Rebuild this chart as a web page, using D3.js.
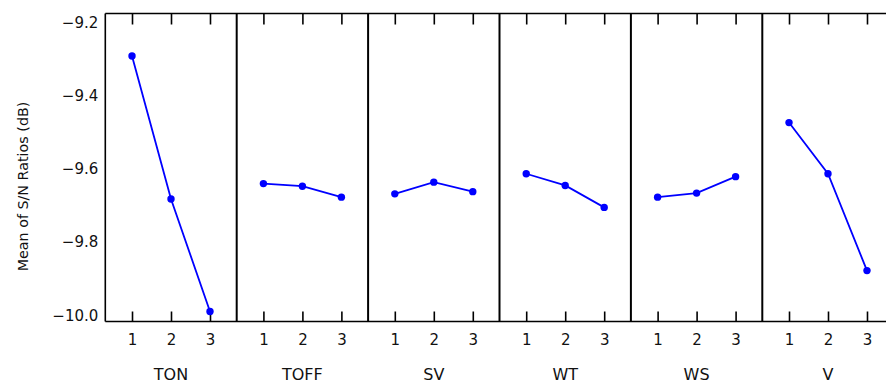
<!DOCTYPE html>
<html>
<head>
<meta charset="utf-8">
<script src="https://cdn.jsdelivr.net/npm/d3@7"></script>
<style>
  html, body { margin: 0; padding: 0; background: #fff; }
  svg { display: block; }
  text { font-family: "DejaVu Sans", "Open Sans", sans-serif; fill: #111; }
</style>
</head>
<body>
<svg id="chart" width="886" height="385"></svg>
<script>
// Main-effects plot: mean S/N ratio per factor level
const factors = ["TON", "TOFF", "SV", "WT", "WS", "V"];
const levels = ["1", "2", "3"];
const valuesTON  = [-9.291, -9.682, -9.990];
const valuesTOFF = [-9.640, -9.647, -9.677];
const valuesSV   = [-9.668, -9.636, -9.662];
const valuesWT   = [-9.613, -9.645, -9.705];
const valuesWS   = [-9.677, -9.666, -9.621];
const valuesV    = [-9.473, -9.613, -9.878];
const yTicks = [-9.2, -9.4, -9.6, -9.8, -10.0];
const yLabel = "Mean of S/N Ratios (dB)";

const series = [valuesTON, valuesTOFF, valuesSV, valuesWT, valuesWS, valuesV];

const svg = d3.select("#chart");
const plotLeft = 105.3, plotTop = 13.5, plotBottom = 321.5, panelW = 131.4;
const plotRight = plotLeft + panelW * factors.length;
const font = "DejaVu Sans, sans-serif";

const y = d3.scaleLinear().domain([-10.0172, -9.1746]).range([plotBottom, plotTop]);
const panelX = d3.scaleBand().domain(factors).range([plotLeft, plotRight]).padding(0);
const xIn = d3.scalePoint().domain(levels).range([0, panelW]).padding(0.685);

// y tick labels (no tick marks)
const yAxis = svg.append("g").attr("transform", `translate(${plotLeft},0)`)
  .call(d3.axisLeft(y).tickValues(yTicks).tickSize(0).tickPadding(7)
    .tickFormat(d => d3.format(".1f")(d).replace("-", "\u2212")));
yAxis.select(".domain").remove();
yAxis.selectAll("text").style("font-size", "15px").style("font-family", font).attr("fill", "#111");

svg.append("text")
  .attr("transform", `translate(23,186.5) rotate(-90)`)
  .attr("text-anchor", "middle").attr("dy", "0.35em")
  .style("font-size", "14.3px").text(yLabel);

factors.forEach((f, i) => {
  const g = svg.append("g").attr("transform", `translate(${panelX(f)},0)`);
  // bottom axis with inward ticks + labels
  const bx = g.append("g").attr("transform", `translate(0,${plotBottom})`)
    .call(d3.axisBottom(xIn).tickSize(-10).tickPadding(13));
  bx.select(".domain").remove();
  bx.selectAll("line").attr("stroke", "#000").attr("stroke-width", 1.6);
  bx.selectAll("text").style("font-size", "15px").style("font-family", font).attr("fill", "#111");
  // top ticks pointing inward
  const tx = g.append("g").attr("transform", `translate(0,${plotTop})`)
    .call(d3.axisTop(xIn).tickSize(-11).tickFormat(""));
  tx.select(".domain").remove();
  tx.selectAll("line").attr("stroke", "#000").attr("stroke-width", 1.6);

  // factor name
  g.append("text").attr("x", panelW / 2).attr("y", 374).attr("dy", "0.35em")
    .attr("text-anchor", "middle").style("font-size", "16px").text(f);

  const pts = levels.map((l, k) => [xIn(l), y(series[i][k])]);
  g.append("path").attr("d", d3.line()(pts))
    .attr("fill", "none").attr("stroke", "#0000ff").attr("stroke-width", 1.8);
  g.selectAll("circle").data(pts).join("circle")
    .attr("cx", d => d[0]).attr("cy", d => d[1]).attr("r", 3.7).attr("fill", "#0000ff");
});

// frame and panel dividers
svg.append("line").attr("x1", plotLeft).attr("x2", plotRight).attr("y1", plotTop).attr("y2", plotTop)
  .attr("stroke", "#000").attr("stroke-width", 1.6);
svg.append("line").attr("x1", plotLeft).attr("x2", plotRight).attr("y1", plotBottom).attr("y2", plotBottom)
  .attr("stroke", "#000").attr("stroke-width", 1.6);
svg.append("line").attr("x1", plotLeft).attr("x2", plotLeft).attr("y1", plotTop).attr("y2", plotBottom)
  .attr("stroke", "#000").attr("stroke-width", 1.6);
factors.slice(1).forEach(f => {
  svg.append("line").attr("x1", panelX(f)).attr("x2", panelX(f)).attr("y1", plotTop).attr("y2", plotBottom)
    .attr("stroke", "#000").attr("stroke-width", 2);
});
</script>
</body>
</html>
